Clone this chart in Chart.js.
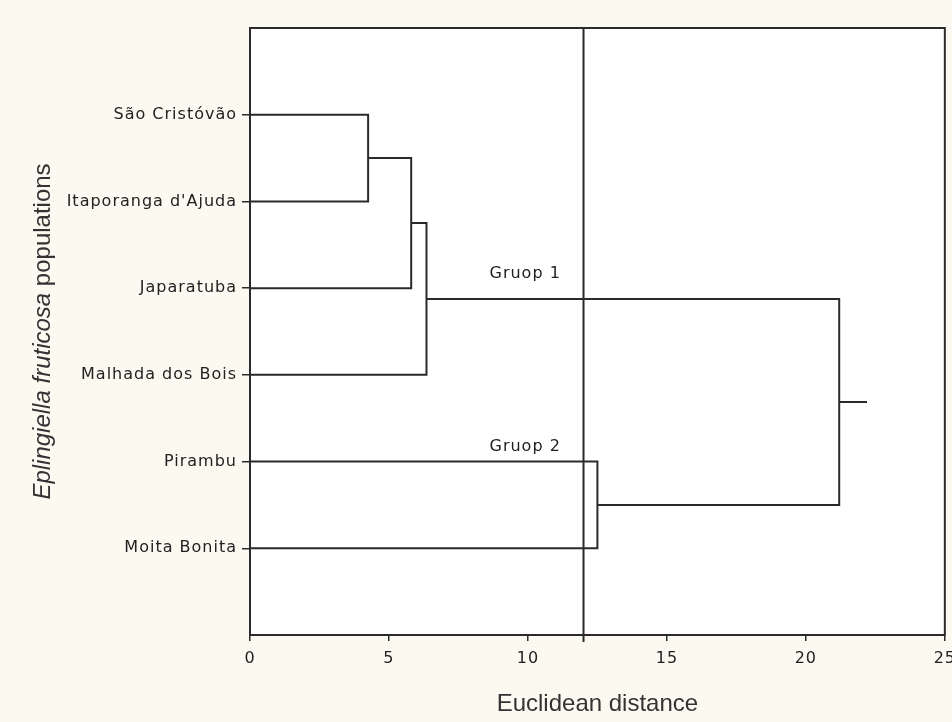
<!DOCTYPE html>
<html>
<head>
<meta charset="utf-8">
<script src="https://cdn.jsdelivr.net/npm/chart.js@4/dist/chart.umd.min.js"></script>
<style>
  html, body { margin: 0; padding: 0; background: #fcf9f0; overflow: hidden; }
  #wrap { width: 963px; height: 722px; }
</style>
</head>
<body>
<div id="wrap"><canvas id="dendro"></canvas></div>
<script>
// leaves, top to bottom
const populations = ['São Cristóvão', "Itaporanga d'Ajuda", 'Japaratuba', 'Malhada dos Bois', 'Pirambu', 'Moita Bonita'];
// merges: node ids 0-5 are leaves, 6.. are the merges in order
const mergeA = [0, 6, 7, 4, 8];
const mergeB = [1, 2, 3, 5, 9];
const mergeDist = [4.25, 5.8, 6.35, 12.5, 21.2];
const rootTail = 22.2;
const cutDist = 12;
const xTicks = [0, 5, 10, 15, 20, 25];
const groupNames = ['Gruop 1', 'Gruop 2'];
const groupAt = [[9.9, 2.83], [9.9, 4.83]];

const lineColor = '#2a2a2a';

// node positions (x = distance, y = row)
const nodeX = populations.map(() => 0);
const nodeY = populations.map((_, i) => i + 1);
mergeA.forEach((a, i) => {
  const b = mergeB[i];
  nodeX.push(mergeDist[i]);
  nodeY.push((nodeY[a] + nodeY[b]) / 2);
});

const datasets = mergeA.map((a, i) => {
  const b = mergeB[i];
  const h = mergeDist[i];
  return {
    data: [
      { x: nodeX[a], y: nodeY[a] },
      { x: h, y: nodeY[a] },
      { x: h, y: nodeY[b] },
      { x: nodeX[b], y: nodeY[b] }
    ],
    showLine: true, borderColor: lineColor, borderWidth: 2, pointRadius: 0, tension: 0
  };
});
const root = nodeX.length - 1;
datasets.push({
  data: [{ x: nodeX[root], y: nodeY[root] }, { x: rootTail, y: nodeY[root] }],
  showLine: true, borderColor: lineColor, borderWidth: 2, pointRadius: 0
});
datasets.push({
  data: [{ x: cutDist, y: 0 }, { x: cutDist, y: 7.08 }],
  showLine: true, borderColor: lineColor, borderWidth: 2, pointRadius: 0, clip: false
});

const framePlugin = {
  id: 'frame',
  beforeDraw(chart) {
    const { ctx, chartArea: a } = chart;
    ctx.letterSpacing = '1px';
    ctx.save();
    ctx.fillStyle = '#ffffff';
    ctx.fillRect(a.left, a.top, a.right - a.left, a.bottom - a.top);
    ctx.restore();
  },
  afterDraw(chart) {
    const { ctx, chartArea: a, scales } = chart;
    ctx.save();
    ctx.strokeStyle = lineColor;
    ctx.lineWidth = 2;
    ctx.strokeRect(a.left, a.top, a.right - a.left, a.bottom - a.top);

    // group labels
    ctx.fillStyle = '#222';
    ctx.font = '16px "DejaVu Sans"';
    ctx.textAlign = 'center';
    ctx.textBaseline = 'middle';
    groupNames.forEach((g, i) => {
      ctx.fillText(g, scales.x.getPixelForValue(groupAt[i][0]), scales.y.getPixelForValue(groupAt[i][1]));
    });

    ctx.letterSpacing = '0px';
    ctx.fillStyle = '#333';
    // x axis title
    ctx.font = '24px "Liberation Sans"';
    ctx.fillText('Euclidean distance', (a.left + a.right) / 2, 704);

    // y axis title, part italic
    const italic = 'italic 24px "Liberation Sans"';
    const normal = '24px "Liberation Sans"';
    const t1 = 'Eplingiella fruticosa', t2 = ' populations';
    ctx.font = italic; const w1 = ctx.measureText(t1).width;
    ctx.font = normal; const w2 = ctx.measureText(t2).width;
    ctx.translate(43, (a.top + a.bottom) / 2);
    ctx.rotate(-Math.PI / 2);
    ctx.textAlign = 'left';
    const start = -(w1 + w2) / 2;
    ctx.font = italic; ctx.fillText(t1, start, 0);
    ctx.font = normal; ctx.fillText(t2, start + w1, 0);
    ctx.restore();
  }
};

new Chart(document.getElementById('dendro'), {
  type: 'scatter',
  data: { datasets },
  plugins: [framePlugin],
  options: {
    responsive: true,
    maintainAspectRatio: false,
    animation: false,
    layout: { padding: { top: 28, right: 12, left: 0, bottom: 0 } },
    plugins: { legend: { display: false }, tooltip: { enabled: false } },
    scales: {
      x: {
        type: 'linear', min: 0, max: 25,
        afterBuildTicks: s => { s.ticks = xTicks.map(v => ({ value: v })); },
        afterFit: s => { s.height = 87; },
        grid: { drawOnChartArea: false, drawTicks: true, tickLength: 6, color: lineColor, lineWidth: 1.5 },
        border: { display: false },
        ticks: { color: '#222', font: { family: 'DejaVu Sans', size: 16 }, padding: 8, maxRotation: 0 }
      },
      y: {
        type: 'linear', min: 0, max: 7, reverse: true,
        afterBuildTicks: s => { s.ticks = populations.map((_, i) => ({ value: i + 1 })); },
        afterFit: s => { s.width = 250; },
        grid: { drawOnChartArea: false, drawTicks: true, tickLength: 8, color: lineColor, lineWidth: 1.5 },
        border: { display: false },
        ticks: {
          color: '#222', font: { family: 'DejaVu Sans', size: 16 }, padding: 5,
          callback: v => populations[v - 1] || ''
        }
      }
    }
  }
});
</script>
</body>
</html>
